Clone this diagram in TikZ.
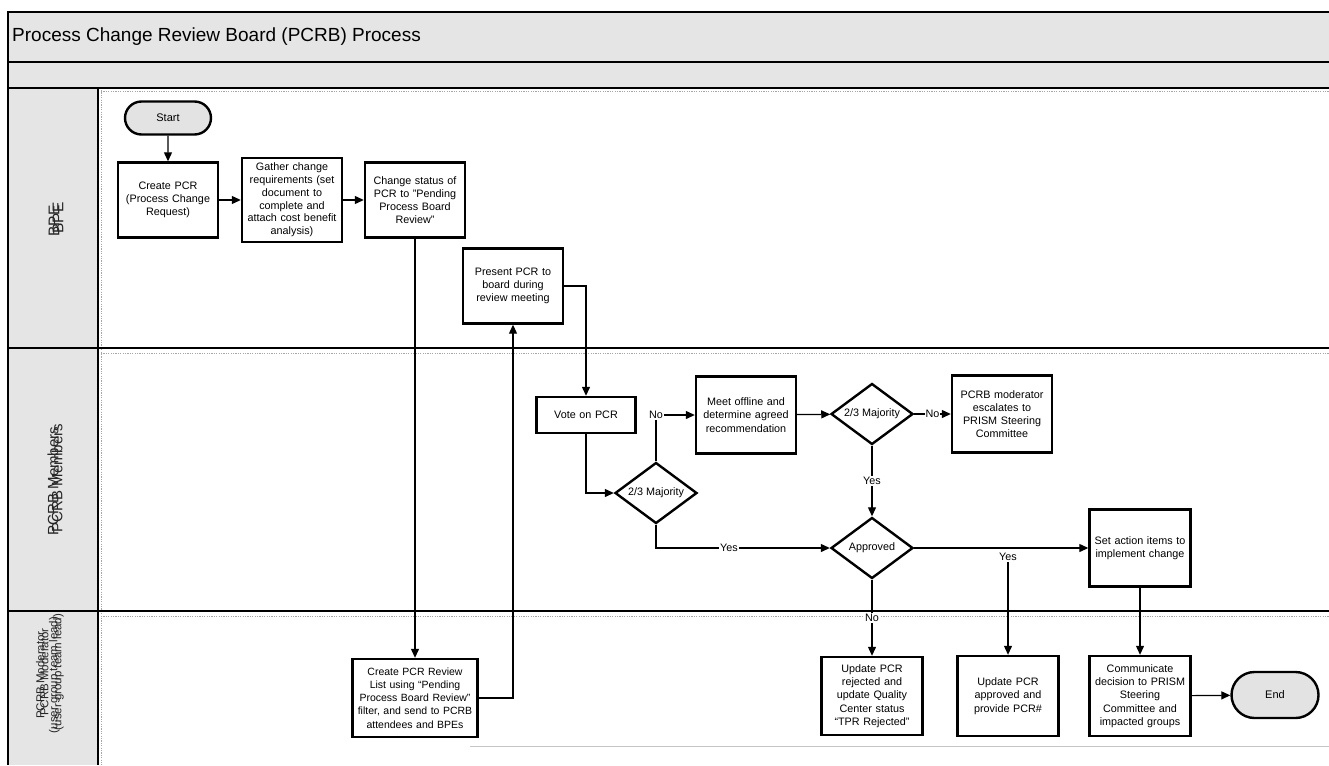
\documentclass[tikz,border=0pt]{standalone}
\usepackage{fontspec}
\setmainfont{Liberation Sans}
\usetikzlibrary{arrows.meta,shapes.geometric,shapes.misc}

\begin{document}
\begin{tikzpicture}[x=1pt,y=-1pt,
  frameline/.style={line width=2.6pt,black},
  proc/.style={draw,line width=2.4pt,fill=white,align=center,
    font=\fontsize{10.8}{13.2}\selectfont,inner sep=1.5pt},
  term/.style={draw,line width=2.4pt,fill=gray!22,rounded rectangle,
    font=\fontsize{11}{12}\selectfont,inner sep=2pt},
  dec/.style={draw,diamond,aspect=1.4,line width=2.4pt,fill=white,inner sep=0pt,
    minimum width=82pt,minimum height=61pt,font=\fontsize{10.8}{12}\selectfont},
  flow/.style={line width=1.2pt,-{Triangle[length=9pt,width=8pt]}},
  lbl/.style={fill=white,inner sep=1pt,font=\fontsize{10.8}{12}\selectfont},
  lanetext/.style={rotate=90,align=center,text=black!85},
  sep/.style={gray!70,line width=0.8pt,dash pattern=on 1.2pt off 1.2pt}
]
\useasboundingbox (0,0) rectangle (1329,765);

% header bands and lane label column
\fill[gray!20] (8,12) rectangle (1329,88);
\fill[gray!20] (8,88) rectangle (98,765);

% inner dotted guides of the lanes
\draw[sep] (101,91) -- (1329,91);
\draw[sep] (101,353) -- (1329,353);
\draw[sep] (101,616) -- (1329,616);
\draw[sep] (101,90) -- (101,765);
\draw[gray!45,line width=0.8pt] (470,746) -- (1329,746);

% pool frame
\draw[frameline] (1329,12) -- (8,12) -- (8,765);
\draw[frameline] (8,62) -- (1329,62);
\draw[frameline] (8,88) -- (1329,88);
\draw[frameline] (98,88) -- (98,765);
\draw[frameline] (8,348) -- (1329,348);
\draw[frameline] (8,611) -- (1329,611);

% title
\node[anchor=west,inner sep=0pt,font=\fontsize{19}{20}\selectfont] (title) at (12,37)
  {Process Change Review Board (PCRB) Process};

% lane names (printed twice, slightly offset)
\node[lanetext,font=\fontsize{15.5}{16}\selectfont] (laneA1) at (54,221) {BPE};
\node[lanetext,font=\fontsize{15.5}{16}\selectfont] (laneA2) at (58,218) {BPE};
\node[lanetext,font=\fontsize{15}{16}\selectfont] (laneB1) at (53,481) {PCRB Members};
\node[lanetext,font=\fontsize{15}{16}\selectfont] (laneB2) at (57,478) {PCRB Members};
\node[lanetext,font=\fontsize{11.5}{13}\selectfont] (laneC1) at (48,675) {PCRB Moderator\\(user group team lead)};
\node[lanetext,font=\fontsize{11.5}{13}\selectfont] (laneC2) at (52,672) {PCRB Moderator\\(user group team lead)};

% BPE lane
\node[term,minimum width=90pt,minimum height=33pt] (start) at (168,118) {Start};
\node[proc,text width=97pt,minimum height=75pt] (create) at (168,200)
  {Create PCR\\(Process Change\\Request)};
\node[proc,text width=97pt,minimum height=84pt,font=\fontsize{10.8}{12.8}\selectfont] (gather) at (292,200)
  {Gather change\\requirements (set\\document to\\complete and\\attach cost benefit\\analysis)};
\node[proc,text width=97pt,minimum height=75pt] (status) at (415,200)
  {Change status of\\PCR to "Pending\\Process Board\\Review"};
\node[proc,text width=97pt,minimum height=75pt] (present) at (513,286)
  {Present PCR to\\board during\\review meeting};

% PCRB members lane
\node[proc,text width=96pt,minimum height=36pt] (vote) at (586,415) {Vote on PCR};
\node[dec] (maj1) at (656,493) {2/3 Majority};
\node[proc,text width=97pt,minimum height=77pt] (meet) at (746,415)
  {Meet offline and\\determine agreed\\recommendation};
\node[dec] (maj2) at (872,414) {2/3 Majority};
\node[proc,text width=97pt,minimum height=77pt] (escalate) at (1002,414)
  {PCRB moderator\\escalates to\\PRISM Steering\\Committee};
\node[dec] (approved) at (872,548) {Approved};
\node[proc,text width=98pt,minimum height=77pt] (action) at (1140,548)
  {Set action items to\\implement change};

% moderator lane
\node[proc,text width=122pt,minimum height=78pt,font=\fontsize{10.5}{13.2}\selectfont] (review) at (415,698)
  {Create PCR Review\\List using “Pending\\Process Board Review”\\filter, and send to PCRB\\attendees and BPEs};
\node[proc,text width=98pt,minimum height=78pt] (rejected) at (872,696)
  {Update PCR\\rejected and\\update Quality\\Center status\\“TPR Rejected”};
\node[proc,text width=98pt,minimum height=80pt] (approvedupd) at (1008,696)
  {Update PCR\\approved and\\provide PCR\#};
\node[proc,text width=98pt,minimum height=80pt] (communicate) at (1140,696)
  {Communicate\\decision to PRISM\\Steering\\Committee and\\impacted groups};
\node[term,minimum width=91pt,minimum height=46pt] (finish) at (1275,695) {End};

% connectors
\draw[flow] (start) -- (create);
\draw[flow] (create) -- (gather);
\draw[flow] (gather) -- (status);
\draw[flow] (status.south) -- (review.north);
\draw[flow] (review.east) -| (present.south);
\draw[flow] (present.east) -| (vote.north);
\draw[flow] (vote.south) |- (maj1.west);
\draw[flow] (maj1.north) |- node[lbl,pos=0.5] {No} (meet.west);
\draw[flow] (meet) -- (maj2);
\draw[flow] (maj2) -- node[lbl,inner sep=0.5pt] {No} (escalate);
\draw[flow] (maj2) -- node[lbl] {Yes} (approved);
\draw[flow] (maj1.south) |- node[lbl,pos=0.71] {Yes} (approved.west);
\draw[flow] (approved) -- (action);
\node[lbl] (yesup) at (1008,557) {Yes};
\draw[flow] (yesup.south) -- (approvedupd.north);
\draw[flow] (approved) -- node[lbl,pos=0.5] {No} (rejected);
\draw[flow] (action) -- (communicate);
\draw[flow] (communicate) -- (finish);
\end{tikzpicture}
\end{document}
